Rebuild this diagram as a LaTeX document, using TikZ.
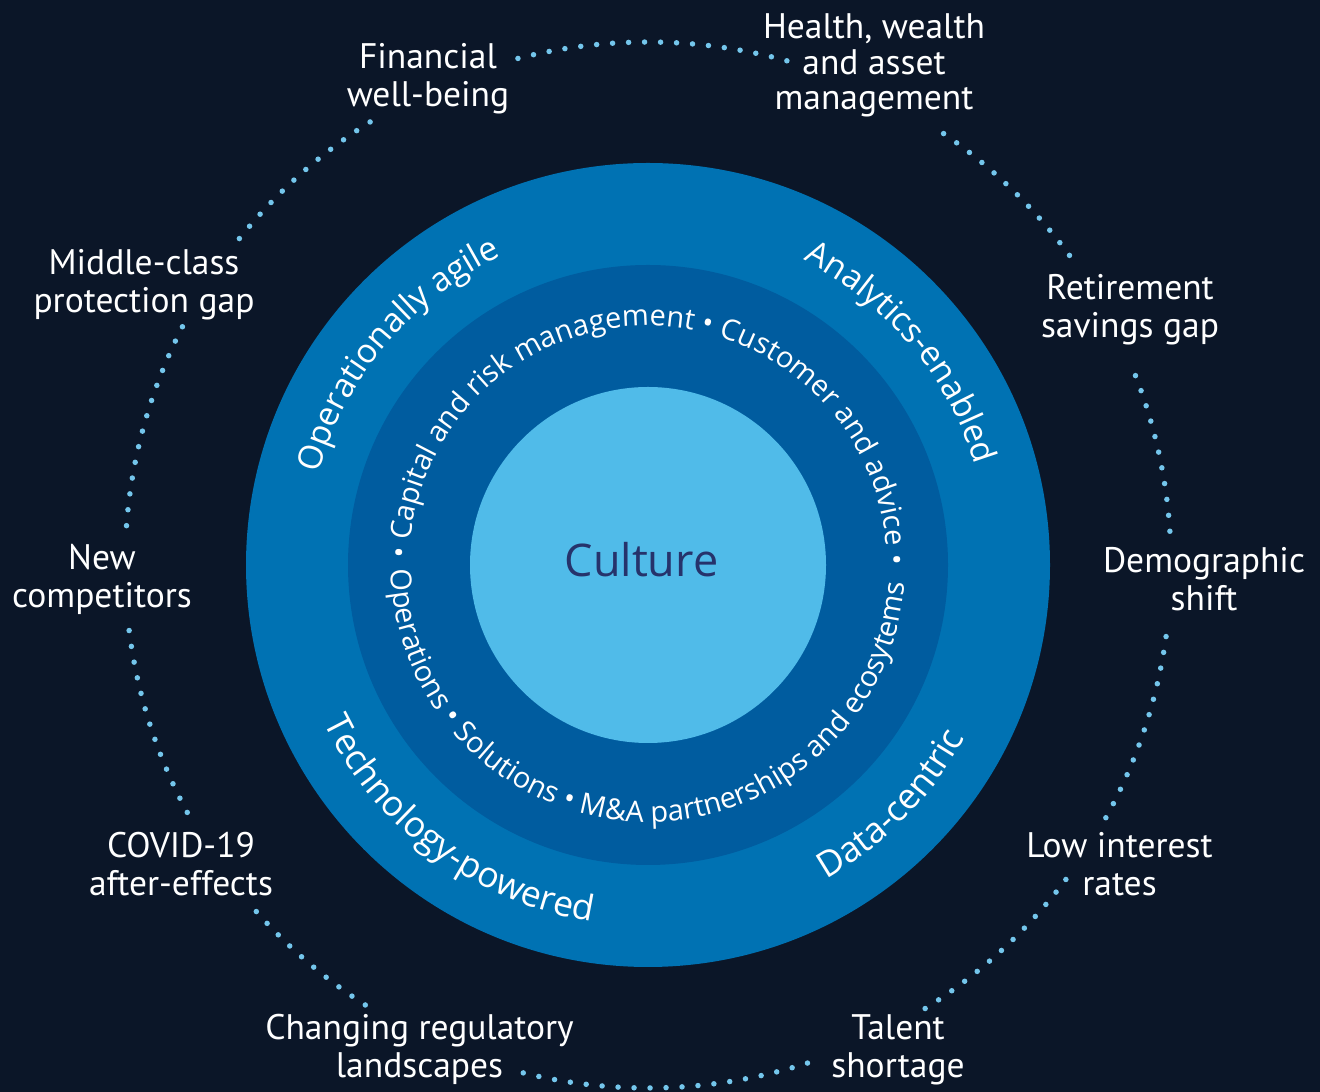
\documentclass[tikz,border=0pt]{standalone}
\usepackage{fontspec}
\setmainfont{PT Sans}
\newfontfamily\labfont{PT Sans}
\newfontfamily\ringfont{Open Sans}
\usetikzlibrary{decorations.text}
\definecolor{bgc}{HTML}{0B1628}
\definecolor{ringout}{HTML}{0072B3}
\definecolor{ringmid}{HTML}{005C9F}
\definecolor{core}{HTML}{50BBE9}
\definecolor{coretext}{HTML}{26336B}
\definecolor{dotc}{HTML}{74C6EC}
\tikzset{
  lab/.style={font=\labfont\fontsize{35.5}{38.5}\selectfont, text=white, align=center, anchor=base, inner sep=0pt},
  dotarc/.style={draw=dotc, line width=5.5pt, line cap=round, dash pattern=on 0pt off 16pt},
  toptext/.style={decorate, decoration={text along path, text align=center, text color=white,
     text={|\ringfont\fontsize{33.5}{36}\selectfont|#1}}},
  bottext/.style={decorate, decoration={text along path, text align=center, text color=white,
     text={|\ringfont\fontsize{35.5}{38}\selectfont|#1}}},
  innertext/.style={decorate, decoration={text along path, text align=center, text color=white,
     text={|\ringfont\fontsize{29}{32}\selectfont|#1}}}
}
\begin{document}
\begin{tikzpicture}[x=1pt,y=1pt]
\fill[bgc] (0,0) rectangle (1320,1092);
\useasboundingbox (0,0) rectangle (1320,1092);
\coordinate (c) at (648,527);
% rings
\fill[ringout] (c) circle[radius=402pt];
\fill[ringmid] (c) circle[radius=300pt];
\fill[core] (c) circle[radius=178pt];
\node[font=\ringfont\fontsize{45}{52}\selectfont, text=coretext, anchor=base] (culture) at (641.5,515) {Culture};
% outer ring texts
\path[toptext={Operationally agile}] (c) ++(180:342pt) arc[start angle=180, end angle=100, radius=342pt];
\path[toptext={Analytics-enabled}] (c) ++(80:342pt) arc[start angle=80, end angle=0, radius=342pt];
\path[bottext={Technology-powered}] (c) ++(193.5:361pt) arc[start angle=193.5, end angle=273.5, radius=361pt];
\path[bottext={Data-centric}] (c) ++(275.5:361pt) arc[start angle=275.5, end angle=355.5, radius=361pt];
% inner ring texts
\path[innertext={• Capital and risk management • Customer and advice •}] (c) ++(178.5:239pt) arc[start angle=178.5, end angle=0, radius=239pt];
\path[innertext={Operations • Solutions • M{\&}A partnerships and ecosytems}] (c) ++(180:257pt) arc[start angle=180, end angle=357, radius=257pt];
% dotted outer circle segments
\draw[dotarc] (c) ++(74.6:523pt) arc[start angle=74.6, end angle=105.7, radius=523pt];
\draw[dotarc] (c) ++(36.3:523pt) arc[start angle=36.3, end angle=56.3, radius=523pt];
\draw[dotarc] (c) ++(3.7:523pt) arc[start angle=3.7, end angle=22.1, radius=523pt];
\draw[dotarc] (c) ++(-28.9:523pt) arc[start angle=-28.9, end angle=-7.2, radius=523pt];
\draw[dotarc] (c) ++(-58:523pt) arc[start angle=-58, end angle=-36.1, radius=523pt];
\draw[dotarc] (c) ++(256.2:523pt) arc[start angle=256.2, end angle=289.2, radius=523pt];
\draw[dotarc] (c) ++(221.5:523pt) arc[start angle=221.5, end angle=237.8, radius=523pt];
\draw[dotarc] (c) ++(187.2:523pt) arc[start angle=187.2, end angle=208.8, radius=523pt];
\draw[dotarc] (c) ++(152.9:523pt) arc[start angle=152.9, end angle=176.4, radius=523pt];
\draw[dotarc] (c) ++(122.1:523pt) arc[start angle=122.1, end angle=142, radius=523pt];
% labels (anchored at baseline of last line)
\node[lab] (fin) at (428,985) {Financial\\well-being};
\node[lab, font=\labfont\fontsize{35.5}{35.5}\selectfont] (health) at (874,982) {Health, wealth\\and asset\\management};
\node[lab] (middle) at (144,779.3) {Middle-class\\protection gap};
\node[lab] (retire) at (1130,754) {Retirement\\savings gap};
\node[lab] (newc) at (102,484) {New\\competitors};
\node[lab] (demo) at (1204,481.3) {Demographic\\shift};
\node[lab] (covid) at (181,196.3) {COVID-19\\after-effects};
\node[lab] (low) at (1119.5,196.3) {Low interest\\rates};
\node[lab] (reg) at (419.5,14) {Changing regulatory\\landscapes};
\node[lab] (talent) at (898,14) {Talent\\shortage};
\end{tikzpicture}
\end{document}
